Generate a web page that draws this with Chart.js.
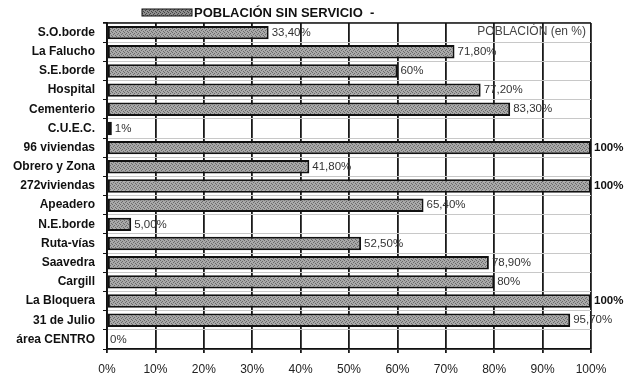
<!DOCTYPE html>
<html>
<head>
<meta charset="utf-8">
<script src="https://cdn.jsdelivr.net/npm/chart.js@4"></script>
<style>
  body { margin: 0; background: #fff; }
  #wrap { width: 635px; height: 378px; }
</style>
</head>
<body>
<div id="wrap"><canvas id="chart" width="635" height="378"></canvas></div>
<script>
// barrios (top to bottom)
const categories = [
  "S.O.borde", "La Falucho", "S.E.borde", "Hospital", "Cementerio", "C.U.E.C.",
  "96 viviendas", "Obrero y Zona", "272viviendas", "Apeadero", "N.E.borde",
  "Ruta-vías", "Saavedra", "Cargill", "La Bloquera", "31 de Julio", "área CENTRO"
];
// % población sin servicio
const sinServicio = [33.4, 71.8, 60, 77.2, 83.3, 1, 100, 41.8, 100, 65.4, 5, 52.5, 78.9, 80, 100, 95.7, 0];
const valueLabels = [
  "33,40%", "71,80%", "60%", "77,20%", "83,30%", "1%", "100%", "41,80%", "100%",
  "65,40%", "5,00%", "52,50%", "78,90%", "80%", "100%", "95,70%", "0%"
];
const legendText = "POBLACIÓN SIN SERVICIO  -";
const axisNote = "POBLACIÓN (en %)";

const FONT = "'Liberation Sans', Arial, sans-serif";

// stippled grey fill like the scanned original
function stipple(base, dot) {
  const c = document.createElement("canvas");
  c.width = 4;
  c.height = 4;
  const g = c.getContext("2d");
  g.fillStyle = base;
  g.fillRect(0, 0, 4, 4);
  g.fillStyle = dot;
  g.fillRect(0, 0, 1, 1);
  g.fillRect(2, 1, 1, 1);
  g.fillRect(1, 2, 1, 1);
  g.fillRect(3, 3, 1, 1);
  return g.createPattern(c, "repeat");
}
const barFill = stipple("#a9a9a9", "#6a6a6a");
const legendFill = stipple("#8e8e8e", "#444");

// value labels, legend and frame
const extras = {
  id: "extras",
  afterDatasetsDraw(chart) {
    const ctx = chart.ctx;
    const area = chart.chartArea;
    const meta = chart.getDatasetMeta(0);
    ctx.save();
    // top frame line
    ctx.strokeStyle = "#111";
    ctx.lineWidth = 1.5;
    ctx.beginPath();
    ctx.moveTo(area.left - 4, area.top);
    ctx.lineTo(area.right, area.top);
    ctx.stroke();

    ctx.textBaseline = "middle";
    ctx.textAlign = "left";
    meta.data.forEach((bar, i) => {
      const full = sinServicio[i] >= 100;
      ctx.font = (full ? "bold " : "") + "11.5px " + FONT;
      ctx.fillStyle = full ? "#111" : "#333";
      const x = sinServicio[i] > 0 ? bar.x + 3 : area.left + 3;
      ctx.fillText(valueLabels[i], x, bar.y);
    });

    // note at top right of plot
    ctx.font = "12px " + FONT;
    ctx.fillStyle = "#444";
    ctx.textAlign = "right";
    ctx.fillText(axisNote, area.right - 5, area.top + 9);

    // legend
    ctx.fillStyle = legendFill;
    ctx.fillRect(142, 9, 50, 7);
    ctx.strokeStyle = "#111";
    ctx.lineWidth = 1;
    ctx.strokeRect(142, 9, 50, 7);
    ctx.font = "bold 13px " + FONT;
    ctx.fillStyle = "#111";
    ctx.textAlign = "left";
    ctx.fillText(legendText, 194, 13);
    ctx.restore();
  }
};

new Chart(document.getElementById("chart"), {
  type: "bar",
  data: {
    labels: categories,
    datasets: [{
      label: legendText,
      data: sinServicio,
      backgroundColor: barFill,
      borderColor: "#111",
      borderWidth: 2,
      borderSkipped: false,
      barPercentage: 0.7,
      categoryPercentage: 1
    }]
  },
  options: {
    indexAxis: "y",
    responsive: false,
    animation: false,
    layout: { padding: { top: 23, right: 44, left: 0, bottom: 0 } },
    plugins: {
      legend: { display: false },
      tooltip: { enabled: false }
    },
    scales: {
      x: {
        min: 0,
        max: 100,
        afterFit: (s) => { s.height = 29; },
        ticks: {
          stepSize: 10,
          padding: 9,
          color: "#222",
          font: { family: FONT, size: 12 },
          callback: (v) => v + "%"
        },
        grid: { color: "#1a1a1a", lineWidth: 1.8, tickLength: 4, tickColor: "#1a1a1a" },
        border: { color: "#111", width: 1.8 }
      },
      y: {
        afterFit: (s) => { s.width = 107; },
        ticks: {
          padding: 8,
          color: "#111",
          font: { family: FONT, size: 12, weight: "bold" }
        },
        grid: { color: "#c8c8c8", lineWidth: 1, tickLength: 4, tickColor: "#111" },
        border: { color: "#111", width: 1.8 }
      }
    }
  },
  plugins: [extras]
});
</script>
</body>
</html>
